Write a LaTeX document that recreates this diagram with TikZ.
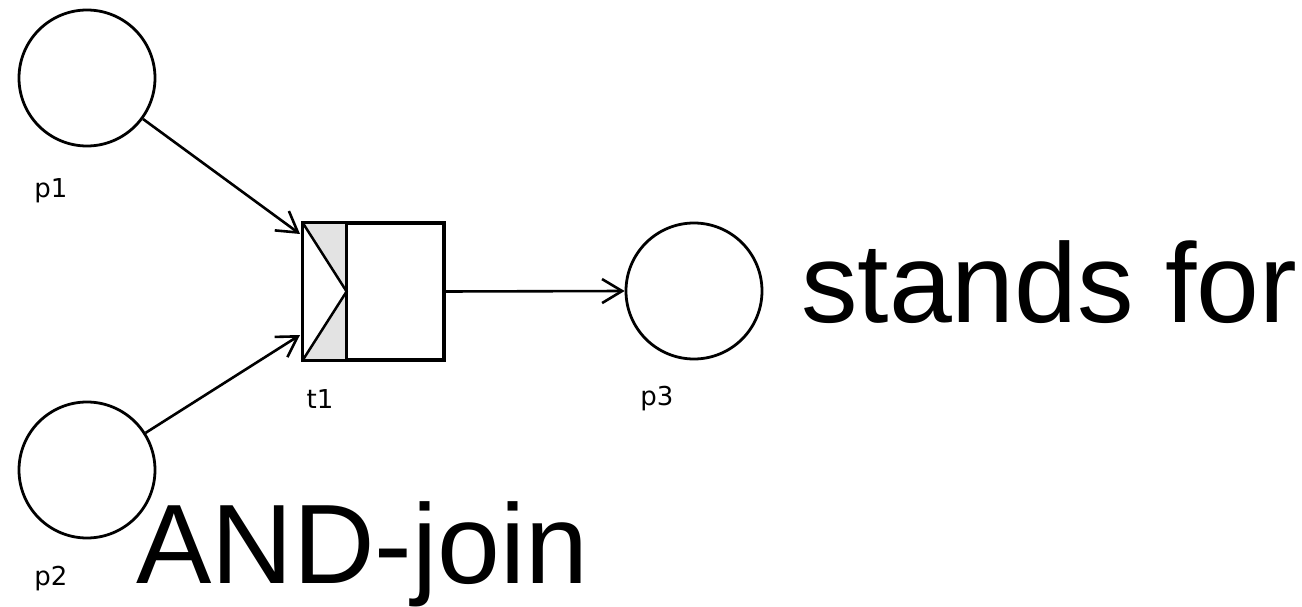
\documentclass[tikz,border=0pt]{standalone}
\usepackage{fontspec}
\setmainfont{Liberation Sans}
\newfontfamily\labelfont{DejaVu Sans}
\usetikzlibrary{arrows.meta}
\begin{document}
\begin{tikzpicture}[x=1pt,y=-1pt,
  place/.style={draw, circle, minimum size=136pt, inner sep=0pt, line width=2.8pt},
  trans/.style={draw, rectangle, minimum width=139pt, minimum height=135pt, inner sep=0pt, line width=2.8pt},
  arc/.style={line width=2.6pt, -{Straight Barb[length=20pt,width=24pt,line width=2.6pt]}},
  lbl/.style={font=\labelfont\fontsize{26}{30}\selectfont, anchor=base, inner sep=0pt},
  big/.style={font=\fontsize{113}{130}\selectfont, anchor=base west, inner sep=0pt}]
\useasboundingbox (0,0) rectangle (1302,607);
\node[place] (p1) at (87,78) {};
\node[place] (p2) at (87,470) {};
\node[place] (p3) at (694,291) {};
\node[trans] (t1) at (373.5,291.5) {};
% AND-join decoration inside the transition
\fill[gray!22] (t1.north west) rectangle ([xshift=44pt]t1.south west);
\fill[white] (t1.north west) -- ([xshift=44pt]t1.west) -- (t1.south west) -- cycle;
\draw[line width=2.8pt] ([xshift=44pt]t1.north west) -- ([xshift=44pt]t1.south west);
\draw[line width=2.5pt] (t1.north west) -- ([xshift=44pt]t1.west) -- (t1.south west);
\draw[line width=2.8pt] (t1.north west) rectangle (t1.south east);
\coordinate (in1) at (300,234);
\coordinate (in2) at (300,335);
\draw[arc] (p1) -- (in1);
\draw[arc] (p2) -- (in2);
\draw[arc] (t1.east) -- (p3.west);
\node[lbl] (lp1) at (51,197) {p1};
\node[lbl] (lp2) at (51,585) {p2};
\node[lbl] (lt1) at (320,408) {t1};
\node[lbl] (lp3) at (657,405) {p3};
\node[big] (sf) at (801,322) {stands for};
\node[big] (aj) at (136,583) {AND-join};
\end{tikzpicture}
\end{document}
